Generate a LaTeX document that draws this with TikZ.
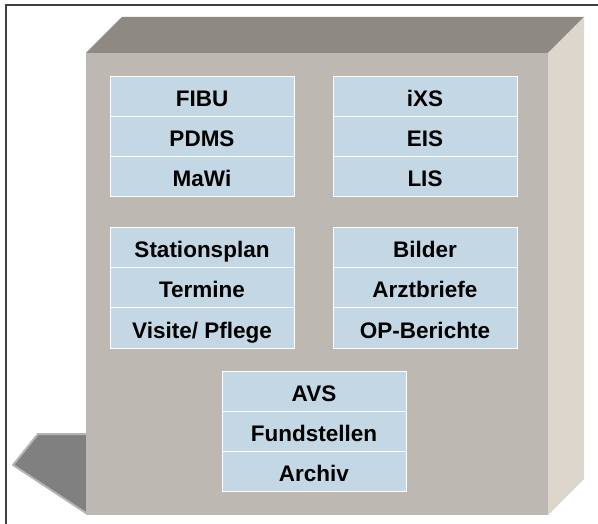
\documentclass[tikz,border=0pt]{standalone}
\usepackage{fontspec}
\setmainfont{Liberation Sans}
\usetikzlibrary{positioning}
\usepackage{xcolor}
\definecolor{framegrey}{HTML}{404040}
\definecolor{toptone}{HTML}{8E8983}
\definecolor{fronttone}{HTML}{BDB8B1}
\definecolor{sidetone}{HTML}{DCD6CC}
\definecolor{cellblue}{HTML}{C3D8E4}
\definecolor{tabgrey}{HTML}{808080}
\definecolor{tabedge}{HTML}{B4B4B4}

\begin{document}
\begin{tikzpicture}[
    x=1pt, y=-1pt,
    node distance=0pt,
    cell/.style={draw=white, line width=1pt, fill=cellblue, minimum width=184pt, minimum height=40pt,
        inner sep=0pt, outer sep=0pt, text height=20pt, text depth=0pt,
        font=\fontsize{22.5}{24}\selectfont\bfseries},
]
\useasboundingbox (0,0) rectangle (598,524);

% Frame
\draw[line width=1.5pt, color=framegrey] (6,524) -- (6,5) -- (598,5);

% Tab on the left
\filldraw[fill=tabgrey, draw=tabedge, line width=2pt, line join=round]
    (100,434) -- (38,434) -- (13,465) -- (86,513) -- (100,513) -- cycle;

% Cabinet
\fill[toptone] (86,53) -- (122,17) -- (584,17) -- (548,53) -- cycle;
\fill[sidetone] (548,53) -- (584,17) -- (584,479) -- (548,515) -- cycle;
\fill[fronttone] (86,53) rectangle (548,515);

% Top left group
\node[cell, anchor=north west] (fibu) at (110,77) {FIBU};
\node[cell, below=of fibu] (pdms) {PDMS};
\node[cell, below=of pdms] (mawi) {MaWi};

% Top right group
\node[cell, anchor=north west] (ixs) at (333,77) {iXS};
\node[cell, below=of ixs] (eis) {EIS};
\node[cell, below=of eis] (lis) {LIS};

% Middle left group
\node[cell, anchor=north west] (plan) at (110,228) {Stationsplan};
\node[cell, below=of plan] (termine) {Termine};
\node[cell, below=of termine] (visite) {Visite/ Pflege};

% Middle right group
\node[cell, anchor=north west] (bilder) at (333,228) {Bilder};
\node[cell, below=of bilder] (briefe) {Arztbriefe};
\node[cell, below=of briefe] (opber) {OP-Berichte};

% Bottom group
\node[cell, anchor=north west] (avs) at (222,371) {AVS};
\node[cell, below=of avs] (fund) {Fundstellen};
\node[cell, below=of fund] (archiv) {Archiv};

\end{tikzpicture}
\end{document}
